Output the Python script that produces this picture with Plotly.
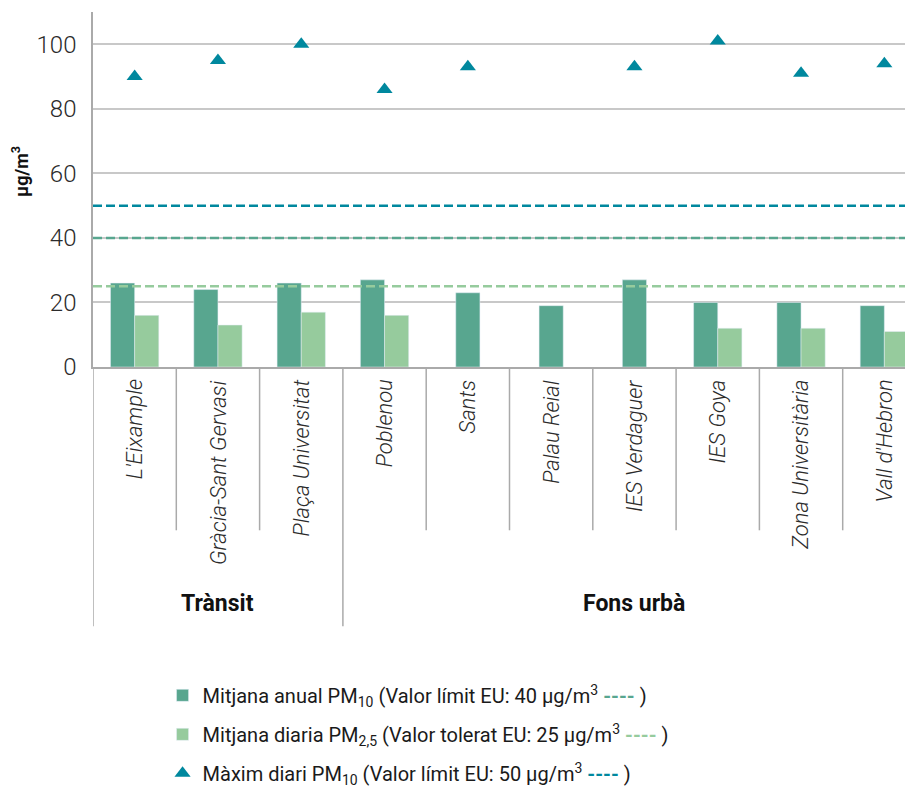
import plotly.graph_objects as go

estacions = ["L'Eixample", "Gràcia-Sant Gervasi", "Plaça Universitat", "Poblenou", "Sants",
             "Palau Reial", "IES Verdaguer", "IES Goya", "Zona Universitària", "Vall d'Hebron"]
grups = ["Trànsit", "Fons urbà"]
grup_inici = [0, 3]  # primer índex de cada grup
grup_final = [2, 9]

pm10_anual = [26, 24, 26, 27, 23, 19, 27, 20, 20, 19]
pm25_diaria = [16, 13, 17, 16, None, None, None, 12, 12, 11]
pm10_max = [90, 95, 100, 86, 93, None, 93, 101, 91, 94]

limit_pm10_anual = 40
limit_pm25 = 25
limit_pm10_diari = 50

c_pm10 = "#58a68f"
c_pm25 = "#96cb9d"
c_max = "#00889e"
gris = "#aaaaaa"
text = "#2b2b2b"

x = list(range(len(estacions)))
amplada = 0.29
off_pm10 = [-amplada if v is not None else -amplada / 2 for v in pm25_diaria]

fig = go.Figure()
fig.add_trace(go.Bar(x=x, y=pm10_anual, width=amplada, offset=off_pm10, marker_color=c_pm10,
                     legendgroup="a",
                     name="Mitjana anual PM<sub>10</sub> (Valor límit EU: 40 µg/m<sup>3</sup> "
                          "<span style='color:%s'><b>----</b></span> )" % c_pm10))
fig.add_trace(go.Bar(x=x, y=pm25_diaria, width=amplada, offset=0, marker_color=c_pm25,
                     legendgroup="b",
                     name="Mitjana diaria PM<sub>2,5</sub> (Valor tolerat EU: 25 µg/m<sup>3</sup> "
                          "<span style='color:%s'><b>----</b></span> )" % c_pm25))
fig.add_trace(go.Scatter(x=x, y=pm10_max, mode="markers", legendgroup="c",
                         marker=dict(symbol="triangle-up", size=14, color=c_max),
                         name="Màxim diari PM<sub>10</sub> (Valor límit EU: 50 µg/m<sup>3</sup> "
                              "<span style='color:%s'><b>----</b></span> )" % c_max))

# línies de valor límit
for val, col in [(limit_pm10_diari, c_max), (limit_pm10_anual, c_pm10), (limit_pm25, c_pm25)]:
    fig.add_shape(type="line", xref="paper", yref="y", x0=0, x1=1, y0=val, y1=val,
                  line=dict(color=col, width=2.5, dash="9px,4px"))

# etiquetes de les estacions i separadors
for i, nom in enumerate(estacions):
    fig.add_annotation(x=i, y=-0.03, xref="x", yref="paper", text="<i>%s</i>" % nom,
                       textangle=-90, showarrow=False, yanchor="top", xanchor="center",
                       font=dict(size=22, color=text, family="Roboto", weight=300))
    llarg = i in grup_inici
    fig.add_shape(type="line", xref="x", yref="paper", x0=i - 0.5, x1=i - 0.5, y0=0,
                  y1=-0.73 if llarg else -0.46, line=dict(color=gris, width=1.5))

for g, a, b in zip(grups, grup_inici, grup_final):
    fig.add_annotation(x=(a + b) / 2, y=-0.665, xref="x", yref="paper", text="<b>%s</b>" % g,
                       showarrow=False, yanchor="middle", xanchor="center",
                       font=dict(size=23, color="#111", family="Roboto"))

fig.add_annotation(x=-0.088, y=0.55, xref="paper", yref="paper", text="<b>µg/m<sup>3</sup></b>",
                   textangle=-90, showarrow=False, xanchor="center", yanchor="middle",
                   font=dict(size=18, color="#111", family="Roboto"))

fig.update_layout(
    width=913, height=791,
    margin=dict(l=85, r=0, t=4, b=432),
    plot_bgcolor="white", paper_bgcolor="white",
    barmode="overlay",
    font=dict(family="Roboto", color=text),
    xaxis=dict(range=[-0.5, 9.44], showticklabels=False, showgrid=False, zeroline=False,
               showline=True, linecolor=gris, linewidth=1.5),
    yaxis=dict(range=[0, 110], tickvals=[0, 20, 40, 60, 80, 100], showgrid=True,
               gridcolor="#c8c8c8", gridwidth=1.5, zeroline=False, showline=True,
               linecolor=gris, linewidth=1.5, ticklabelstandoff=10,
               tickfont=dict(size=24, color=text, family="Roboto", weight=300)),
    legend=dict(orientation="v", x=0.084, xanchor="left", y=-0.87, yanchor="top",
                font=dict(size=20, color="#1a1a1a", family="Roboto", weight=400),
                itemwidth=30, bgcolor="rgba(0,0,0,0)", traceorder="grouped", tracegroupgap=10),
    showlegend=True,
)

fig.write_html("out.html")
